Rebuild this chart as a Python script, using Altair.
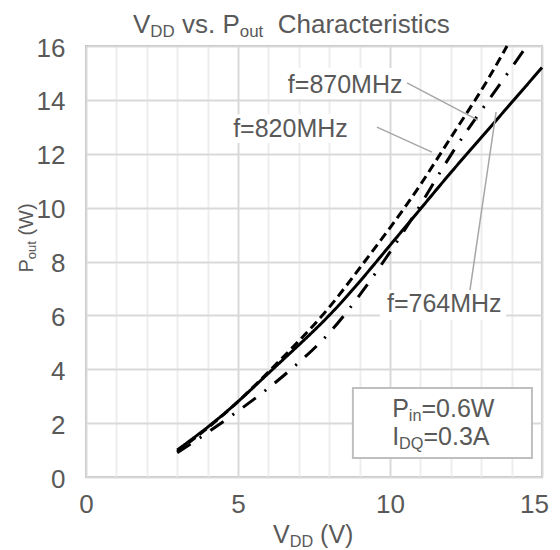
import altair as alt
import pandas as pd

# ---------------- data ----------------
v764 = [3, 4, 5, 6, 7, 8, 9, 10, 11, 12, 13, 14, 15]
p764 = [1.0, 1.85, 2.8, 3.85, 4.9, 6.0, 7.25, 8.6, 9.95, 11.3, 12.6, 13.9, 15.2]
v820 = [3, 4, 5, 6, 7, 8, 9, 10, 11, 12, 13, 13.85]
p820 = [0.95, 1.82, 2.8, 3.9, 5.05, 6.3, 7.75, 9.25, 10.85, 12.6, 14.35, 16.0]
v870 = [3, 4, 5, 6, 7, 8, 9, 10, 11, 12, 13, 14, 14.5]
p870 = [0.9, 1.65, 2.45, 3.3, 4.25, 5.35, 6.75, 8.35, 10.1, 11.95, 13.6, 15.2, 16.0]
series = ["764MHz", "820MHz", "870MHz"]
x_ticks = list(range(0, 16))
y_ticks = list(range(0, 17, 2))

rows = []
for name, vs, ps in zip(series, [v764, v820, v870], [p764, p820, p870]):
    for v, p in zip(vs, ps):
        rows.append({"V": v, "P": p, "f": name})
df = pd.DataFrame(rows)

# ---------------- layout / style ----------------
FONT = "Liberation Sans"
TXT = "#595959"
PLOT_W, PLOT_H = 456, 431
TICK = 26
BIG = 25
TTL = 26
YT = 20

WID = {" ": 278, "(": 333, ")": 333, ".": 278, "=": 584, "A": 667, "C": 722,
       "D": 722, "H": 722, "I": 278, "M": 833, "P": 667, "Q": 778, "V": 667,
       "W": 944, "a": 556, "c": 500, "e": 556, "f": 278, "h": 556, "i": 222,
       "n": 556, "o": 556, "r": 333, "s": 500, "t": 278, "u": 556, "v": 500,
       "z": 500}


def tw(s, size):
    return sum(WID.get(ch, 556) for ch in s) / 1000.0 * size


xs = alt.Scale(domain=[0, 15], nice=False, zero=False)
ys = alt.Scale(domain=[0, 16], nice=False, zero=False)
XAX = alt.Axis(
    values=x_ticks, title=None, ticks=False, domain=False,
    labelExpr="datum.value % 5 === 0 ? datum.label : ''",
    labelOverlap=False, labelFlush=False, labelBound=False,
    labelOffset={"condition": {"test": "datum.value === 15", "value": -8}, "value": 0},
    labelFontSize=TICK, labelColor=TXT, labelFont=FONT, labelPadding=14,
    gridColor={"condition": {"test": "datum.value % 5 === 0", "value": "#d9d9d9"},
               "value": "#eeeeee"},
    gridWidth=2)
YAX = alt.Axis(
    values=y_ticks, title=None, ticks=False, domain=False, labelOverlap=False,
    labelFontSize=TICK, labelColor=TXT, labelFont=FONT, labelPadding=21,
    labelOffset=2, gridColor="#d9d9d9", gridWidth=2)


def X(f="V:Q"):
    return alt.X(f, scale=xs, axis=XAX)


def Y(f="P:Q"):
    return alt.Y(f, scale=ys, axis=YAX)


def rich(segments, size, x=None, y=None, px=None, py=None, angle=0):
    """Text made of normal and subscript pieces."""
    layers = []
    off = 0.0
    for txt, sub in segments:
        fs = size * 0.65 if sub else size
        dy = size * 0.16 if sub else 0
        lead = len(txt) - len(txt.lstrip(" "))
        trail = len(txt) - len(txt.rstrip(" "))
        body = txt.strip(" ")
        off += tw(" " * lead, fs)
        mk = dict(text=body, align="left", baseline="alphabetic", fontSize=fs,
                  dx=off, dy=dy, font=FONT, color=TXT)
        if angle:
            mk["angle"] = angle
        if px is not None:
            c = alt.Chart(pd.DataFrame({"a": [0]})).mark_text(**mk).encode(
                x=alt.value(px), y=alt.value(py))
        else:
            c = alt.Chart(pd.DataFrame({"V": [x], "P": [y]})).mark_text(**mk).encode(
                x=X(), y=Y())
        layers.append(c)
        off += tw(body, fs) + tw(" " * trail, fs)
    return layers, off


lines = alt.Chart(df).mark_line(strokeWidth=3, color="black", interpolate="natural").encode(
    x=X(), y=Y(),
    strokeDash=alt.StrokeDash("f:N", scale=alt.Scale(
        domain=series, range=[[1, 0], [9, 5], [16, 11, 2, 11]]), legend=None),
    detail="f:N",
)

# white backgrounds behind labels, and the parameter box
bg = pd.DataFrame({
    "V": [6.45, 4.67, 9.67], "V2": [10.66, 8.75, 13.82],
    "P": [14.03, 12.4, 5.83], "P2": [15.18, 13.47, 6.94]})
bg_layer = alt.Chart(bg).mark_rect(color="white").encode(
    x=X(), x2="V2:Q", y=Y(), y2="P2:Q")

box = pd.DataFrame({"V": [8.78], "V2": [14.67], "P": [0.705], "P2": [3.30]})
box_layer = alt.Chart(box).mark_rect(fill="white", stroke="#bfbfbf", strokeWidth=2).encode(
    x=X(), x2="V2:Q", y=Y(), y2="P2:Q")

leaders = pd.DataFrame({
    "V": [10.56, 9.57, 12.63], "P": [14.63, 12.99, 6.94],
    "V2": [12.89, 11.38, 13.49], "P2": [13.25, 12.06, 13.55]})
leader_layer = alt.Chart(leaders).mark_rule(color="#a6a6a6", strokeWidth=1.5).encode(
    x=X(), y=Y(), x2="V2:Q", y2="P2:Q")

texts = []
t, _ = rich([("f=870MHz", False)], BIG, x=6.64, y=14.25); texts += t
t, _ = rich([("f=820MHz", False)], BIG, x=4.84, y=12.62); texts += t
t, _ = rich([("f=764MHz", False)], BIG, x=9.90, y=6.12); texts += t
t, _ = rich([("P", False), ("in", True), ("=0.6W", False)], BIG, x=10.07, y=2.23); texts += t
t, _ = rich([("I", False), ("DQ", True), ("=0.3A", False)], BIG, x=10.07, y=1.19); texts += t

# chart title
t, _ = rich([("V", False), ("DD", True), (" vs. P", False), ("out", True),
             ("  Characteristics", False)], TTL, px=47, py=-13); texts += t
# x axis title
t, _ = rich([("V", False), ("DD", True), (" (V)", False)], BIG, px=187, py=497); texts += t
# y axis title (rotated)
ysegs = [("P", False), ("out", True), (" (W)", False)]
_, ylen = rich(ysegs, YT, px=0, py=0, angle=270)
t, _ = rich(ysegs, YT, px=-53, py=192 + ylen / 2, angle=270); texts += t

chart = alt.layer(lines, bg_layer, box_layer, leader_layer, *texts).properties(
    width=PLOT_W, height=PLOT_H,
    autosize=alt.AutoSizeParams(type="none"),
    padding={"left": 78, "top": 38, "right": 10, "bottom": 72},
    background="white",
).configure_view(stroke="#bfbfbf", strokeWidth=2)

chart.save("out.html", embed_options={"renderer": "svg", "actions": False})
